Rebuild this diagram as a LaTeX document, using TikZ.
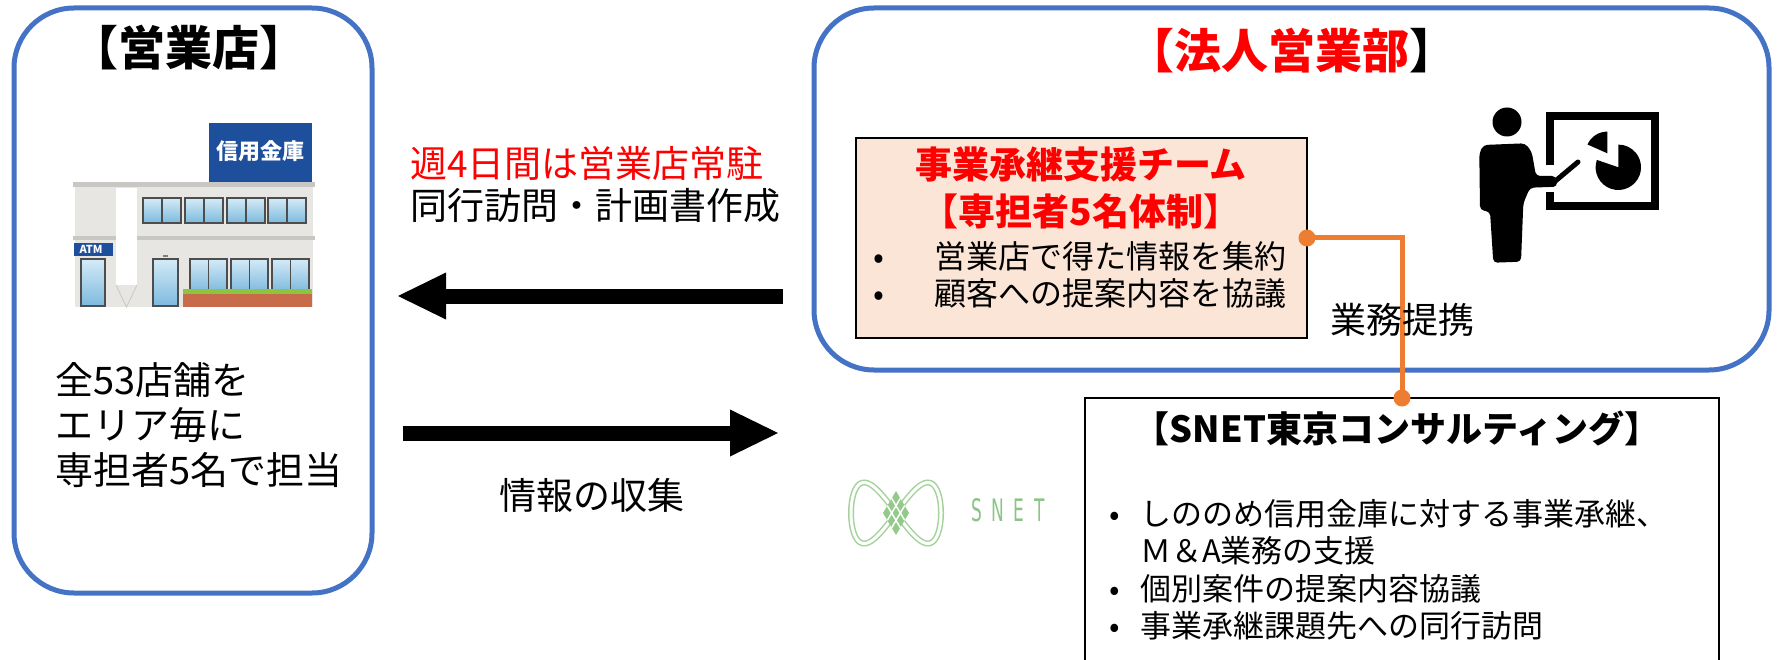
\documentclass[tikz,border=0pt]{standalone}
\usepackage{graphicx}
\usepackage{fontspec}
\setmainfont{Noto Sans CJK JP}
\newfontfamily\logofont{DejaVu Sans}
\usetikzlibrary{arrows.meta,calc}

\definecolor{frameblue}{HTML}{4472C4}
\definecolor{teamfill}{HTML}{FBE5D6}
\definecolor{linkorange}{HTML}{ED7D31}
\definecolor{headred}{HTML}{FF0000}
\definecolor{signblue}{HTML}{1D4F9C}
\definecolor{wallgray}{HTML}{E8E6E2}
\definecolor{ledgegray}{HTML}{C9C7C4}
\definecolor{framegray}{HTML}{4D4D4D}
\definecolor{glasstop}{HTML}{D4EBF7}
\definecolor{glassbot}{HTML}{7DB9DE}
\definecolor{brick}{HTML}{C76B4B}
\definecolor{grass}{HTML}{8CC63F}
\definecolor{snetgreen}{HTML}{A3D39A}
\definecolor{snetdiamond}{HTML}{93CA89}
\definecolor{snettext}{HTML}{8CC487}

\newcommand{\setfs}[2]{\fontsize{#1}{#2}\selectfont}

\begin{document}
\begin{tikzpicture}[x=1pt,y=-1pt,
  panel/.style={draw=frameblue,line width=5pt,rounded corners=60pt,inner sep=0pt,outer sep=0pt},
  infobox/.style={draw=black,line width=2.5pt,inner sep=0pt,outer sep=0pt},
  txt/.style={inner sep=0pt,outer sep=0pt},
  bigarrow/.style={line width=15pt,-{Triangle[length=48pt,width=47pt,line width=0pt]}},
  link/.style={draw=linkorange,line width=5pt},
  window/.style={draw=framegray,line width=1.6pt,top color=glasstop,bottom color=glassbot},
  snetline/.style={draw=snetgreen,line width=1.5pt,double=white,double distance=3pt},
]
\useasboundingbox (0,0) rectangle (1779,660);

% ---------- panels ----------
\node[panel,minimum width=358pt,minimum height=585pt] (branch) at (193,300.5) {};
\node[panel,minimum width=955pt,minimum height=362pt] (hq) at (1291.5,189) {};
\node[infobox,fill=teamfill,minimum width=451pt,minimum height=200pt] (team) at (1081.5,238) {};
\node[infobox,fill=white,minimum width=634pt,minimum height=290pt] (snet) at (1402,543) {};

% ---------- branch office building ----------
\fill[wallgray] (75,187) rectangle (313,307);
\fill[ledgegray] (73,182) rectangle (315,187);
\fill[ledgegray] (73,236) rectangle (315,240);
\fill[signblue] (209,123) rectangle (312,182);
\node[txt,text=white,font=\setfs{22}{24}\bfseries] (signtext) at (260.5,151) {信用金庫};
\fill[white] (116,188) rectangle (137,285);
\draw[ledgegray,line width=0.8pt] (116,285) -- (126.5,307) -- (137,285);
\fill[signblue] (74,243) rectangle (113,256);
\node[txt,text=white,font=\setfs{11}{12}\bfseries] (atmtext) at (91,249.5) {ATM};
\draw[window] (81,259) rectangle (105,306);
\draw[window] (153,259) rectangle (178,306);
\fill[gray] (163,255.5) rectangle (168,257.5);
\foreach \wx in {143,185,227,268}{
  \draw[window] (\wx,198) rectangle ++(38,25);
  \draw[framegray,line width=1.6pt] (\wx+19,198) -- ++(0,25);
}
\foreach \wx in {190,231,272}{
  \draw[window] (\wx,259) rectangle ++(37,33);
  \draw[framegray,line width=1.6pt] (\wx+18.5,259) -- ++(0,33);
}
\fill[brick] (183,293) rectangle (312,307);
\fill[grass] (183,289) rectangle (312,294);

% ---------- presenter pictogram ----------
\fill (1507,122) circle (14.5);
\fill[rounded corners=4pt] (1483.3,145) -- (1525,143.3) -- (1531.7,151.7) -- (1536,176)
  -- (1556,176) -- (1557.3,186.7) -- (1530,187.7) -- (1523.3,203.3) -- (1521,261.7)
  -- (1493.3,262.7) -- (1490,211.7) -- (1480,210) -- (1479.3,153.3) -- cycle;
\draw[line width=5pt,line cap=round] (1553,183) -- (1578,162);
\draw[line width=8pt] (1550,165) -- (1550,115.7) -- (1655,115.7) -- (1655,206) -- (1550,206) -- (1550,192);
\fill (1618.3,167.3) -- ++(-161:22.7) arc[start angle=-161,end angle=-450,radius=22.7] -- cycle;
\fill (1607.3,153.3) -- ++(-90:21.7) arc[start angle=-90,end angle=-156,radius=21.7] -- cycle;

% ---------- SNET logo ----------
\draw[snetline] plot[domain=0:357.5,samples=144,smooth cycle] ({896+45*cos(\x)},{513+61*sin(\x)*cos(\x)});
\coordinate (dT) at (896,491);
\coordinate (dR) at (909,513);
\coordinate (dB) at (896,535);
\coordinate (dL) at (883,513);
\fill[snetdiamond] (dT) -- (dR) -- (dB) -- (dL) -- cycle;
\foreach \t in {0.333,0.667}{
  \draw[white,line width=1.5pt] ($(dT)!\t!(dL)$) -- ($(dR)!\t!(dB)$);
  \draw[white,line width=1.5pt] ($(dT)!\t!(dR)$) -- ($(dL)!\t!(dB)$);
}
\foreach \ch/\lx [count=\i] in {S/977,N/998,E/1019,T/1040}{
  \node[txt,text=snettext,font=\logofont\setfs{31}{33}] (snetletter\i) at (\lx,510) {\scalebox{0.55}[1]{\ch}};
}

% ---------- texts ----------
\node[txt,font=\setfs{47}{50}\bfseries] (branchtitle) at (189,48) {【営業店】};
\node[txt,font=\setfs{47}{50}\bfseries] (hqtitle) at (1292,51) {\textcolor{headred}{【法人営業部}】};
\node[txt,anchor=west,align=left,font=\setfs{38}{45}] (branchtext) at (55,425) {全53店舗を\\エリア毎に\\専担者5名で担当};
\node[txt,anchor=west,align=left,font=\setfs{37}{42}] (visitnote) at (410,184) {\textcolor{headred}{週4日間は営業店常駐}\\同行訪問・計画書作成};
\node[txt,font=\setfs{37}{40}] (collect) at (592,495) {情報の収集};
\node[txt,align=center,text=headred,font=\setfs{37}{47}\bfseries] (teamtitle) at (1081,188) {事業承継支援チーム\\【専担者5名体制】};
\node[txt,anchor=west,align=left,font=\setfs{32}{37}] (teamtasks) at (873.5,274.5)
  {\makebox[61.5pt][l]{•}営業店で得た情報を集約\\\makebox[61.5pt][l]{•}顧客への提案内容を協議};
\node[txt,font=\setfs{36}{40}\bfseries] (snettitle) at (1397,428) {【SNET東京コンサルティング】};
\node[txt,anchor=west,align=left,font=\setfs{31}{37.5}] (snettasks) at (1109,570)
  {\makebox[31pt][l]{•}しののめ信用金庫に対する事業承継、\\\makebox[31pt][l]{}Ｍ＆A業務の支援\\\makebox[31pt][l]{•}個別案件の提案内容協議\\\makebox[31pt][l]{•}事業承継課題先への同行訪問};

% ---------- flows between the offices ----------
\coordinate (hqOut) at (783,296);
\coordinate (branchIn) at (398,296);
\coordinate (branchOut) at (403,433);
\coordinate (hqIn) at (778,433);
\draw[bigarrow] (hqOut) -- (branchIn);
\draw[bigarrow] (branchOut) -- (hqIn);

% ---------- business alliance link ----------
\draw[link] (team.east) -| (snet.north);
\fill[linkorange] (team.east) circle (8.5);
\fill[linkorange] (snet.north) circle (8.5);
\node[txt,font=\setfs{36}{40}] (alliance) at (1402,320) {業務提携};
\end{tikzpicture}
\end{document}
